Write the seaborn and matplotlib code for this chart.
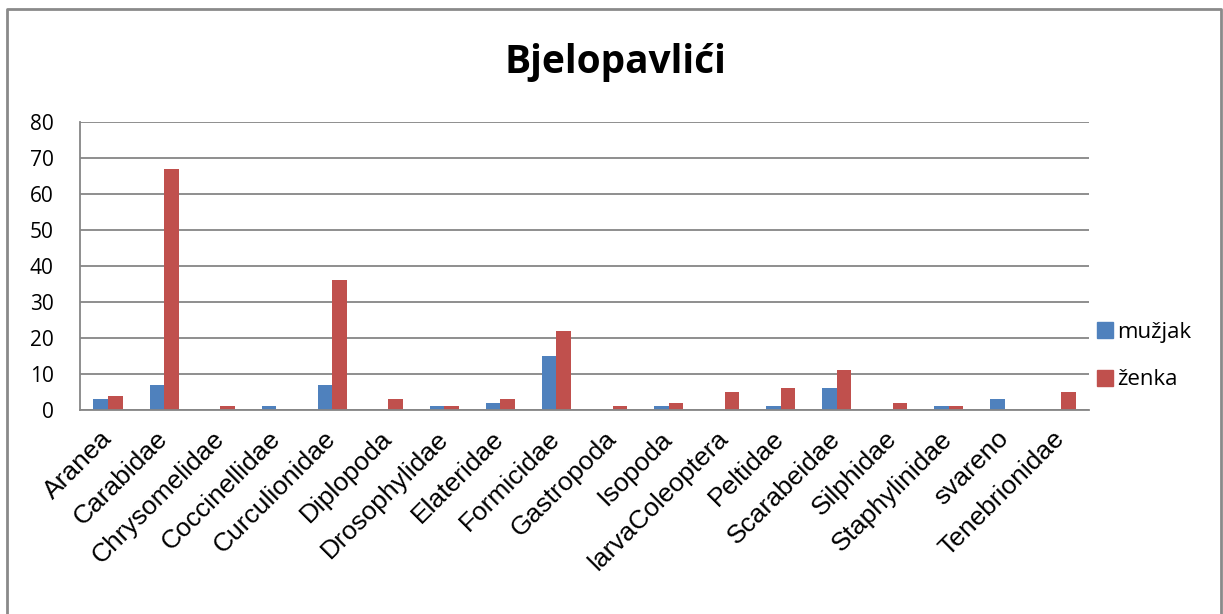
import pandas as pd
import matplotlib
matplotlib.use("Agg")
import matplotlib.pyplot as plt
import seaborn as sns
from matplotlib.lines import Line2D

# podaci (procjena s grafikona)
kategorije = ['Aranea', 'Carabidae', 'Chrysomelidae', 'Coccinellidae', 'Curculionidae',
              'Diplopoda', 'Drosophylidae', 'Elateridae', 'Formicidae', 'Gastropoda',
              'Isopoda', 'larvaColeoptera', 'Peltidae', 'Scarabeidae', 'Silphidae',
              'Staphylinidae', 'svareno', 'Tenebrionidae']
muzjak = [3, 7, 0, 1, 7, 0, 1, 2, 15, 0, 1, 0, 1, 6, 0, 1, 3, 0]
zenka = [4, 67, 1, 0, 36, 3, 1, 3, 22, 1, 2, 5, 6, 11, 2, 1, 0, 5]
serije = ['mužjak', 'ženka']
boje = ['#4F81BD', '#C0504D']

df = pd.DataFrame({'kategorija': kategorije * 2,
                   'spol': [serije[0]] * len(kategorije) + [serije[1]] * len(kategorije),
                   'broj': muzjak + zenka})

sns.set_style('white')
plt.rcParams['font.family'] = ['Liberation Sans', 'DejaVu Sans']
plt.rcParams['text.color'] = 'black'
plt.rcParams['xtick.color'] = 'black'
plt.rcParams['ytick.color'] = 'black'

fig = plt.figure(figsize=(12.23, 6.14), dpi=100)
ax = fig.add_axes([80 / 1223, 204 / 614, 1009 / 1223, 288 / 614])

sns.barplot(data=df, x='kategorija', y='broj', hue='spol', palette=boje,
            width=0.52, gap=0, linewidth=0, saturation=1, legend=False, ax=ax)

ax.set_ylim(0, 80)
ax.set_yticks(range(0, 81, 10))
ax.set_xlim(-0.5, len(kategorije) - 0.5)
ax.yaxis.grid(True, color='#868686', linewidth=1.3)
ax.set_axisbelow(True)
for s in ['top', 'right']:
    ax.spines[s].set_visible(False)
for s in ['left', 'bottom']:
    ax.spines[s].set_color('#868686')
    ax.spines[s].set_linewidth(1.3)
ax.set_xlabel('')
ax.set_ylabel('')
ax.tick_params(axis='both', length=0)
ax.tick_params(axis='y', pad=19)
ax.tick_params(axis='x', pad=18)

for lab in ax.get_yticklabels():
    lab.set_fontfamily('Open Sans')
    lab.set_fontsize(15)
ax.set_xticks(range(len(kategorije)))
ax.set_xticklabels(kategorije, rotation=45, ha='right', va='center',
                   rotation_mode='anchor', fontsize=19)

# naslov
fig.text(615 / 1223, 1 - 62 / 614, 'Bjelopavlići', ha='center', va='center',
         fontsize=28, fontweight='bold', fontfamily='Open Sans', color='black')

# legenda
handles = [Line2D([], [], marker='s', linestyle='', markersize=11,
                  markerfacecolor=c, markeredgecolor=c) for c in boje]
fig.legend(handles, serije, loc='center left', bbox_to_anchor=(1078 / 1223, 1 - 356 / 614),
           frameon=False, prop={'family': 'Open Sans', 'size': 16},
           handlelength=0.6, handletextpad=0.25, labelspacing=1.2)

# okvir grafikona
fig.add_artist(Line2D([7 / 1223, 7 / 1223, 1221 / 1223, 1221 / 1223],
                      [0, 1 - 9 / 614, 1 - 9 / 614, 0],
                      transform=fig.transFigure, color='#8a8a8a', linewidth=2))

fig.savefig('out.png', dpi=100)
